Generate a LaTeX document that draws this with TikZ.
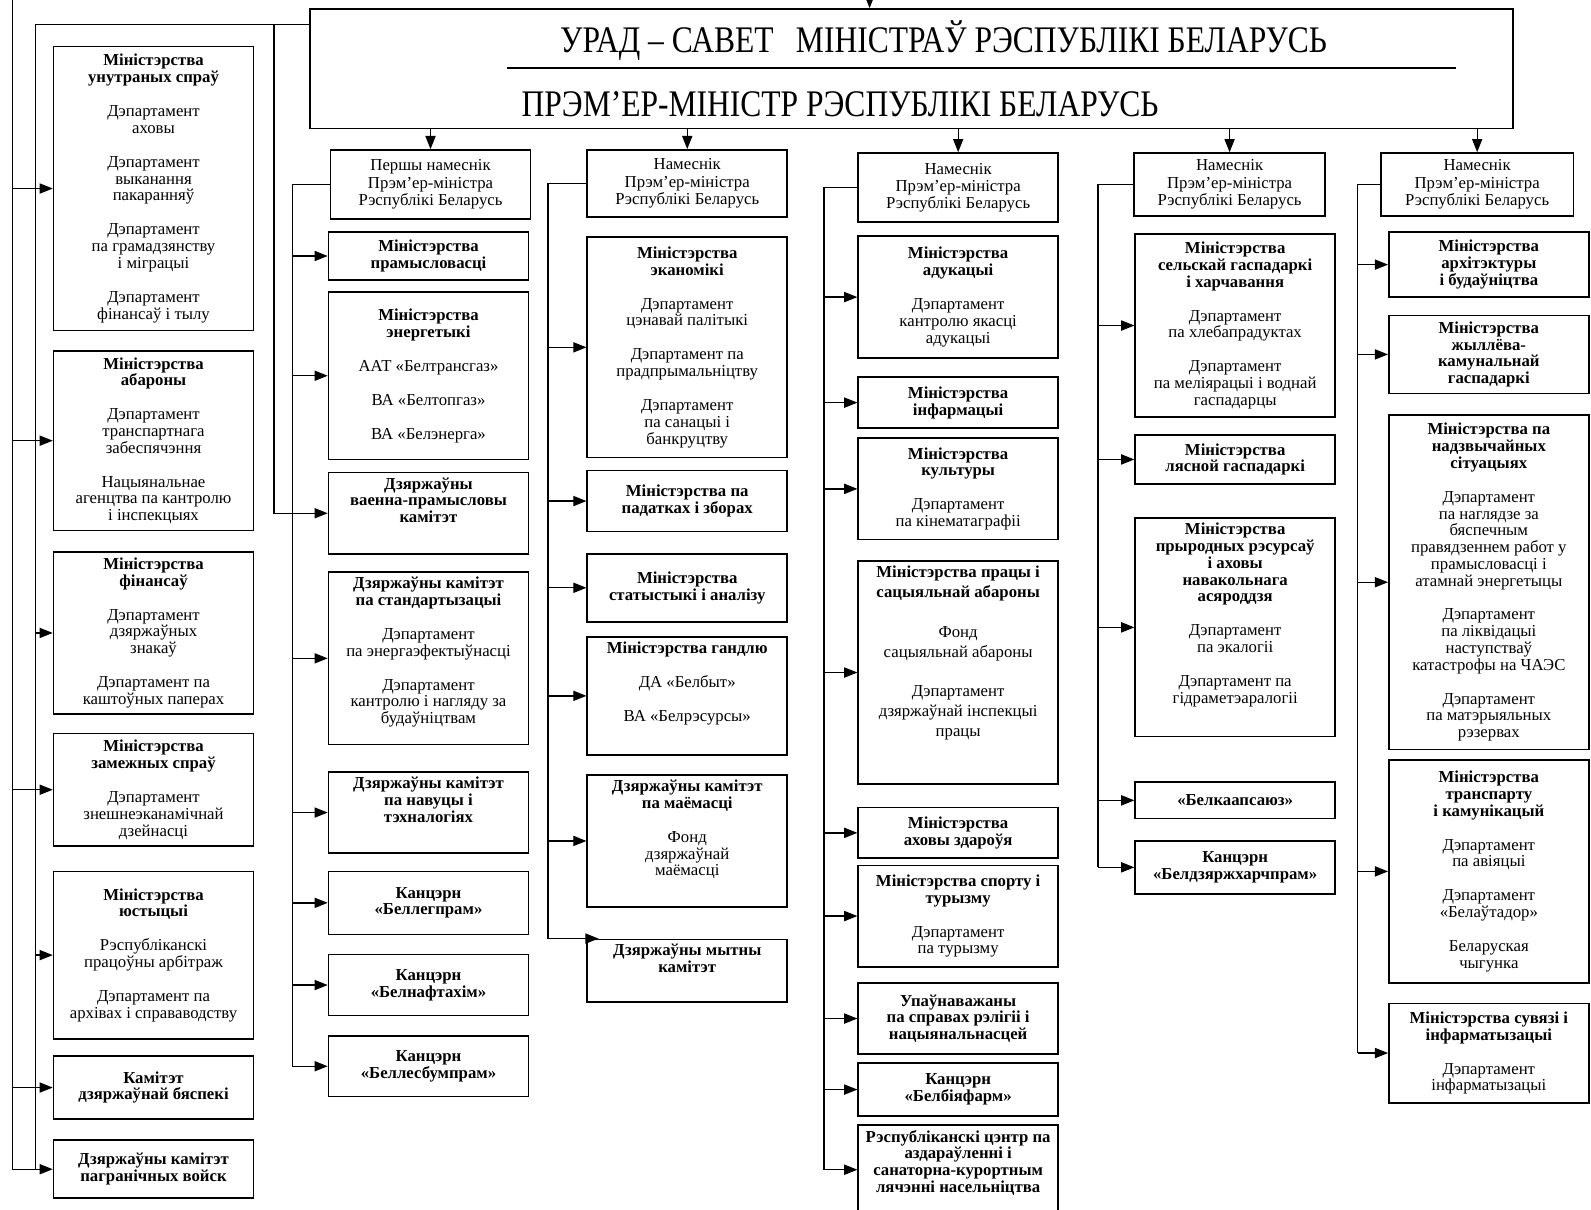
\documentclass[tikz,border=0pt]{standalone}
\usepackage{fontspec}
\setmainfont{Liberation Serif}
\newfontfamily\titlefont[FakeStretch=0.84]{Liberation Serif}
\usetikzlibrary{arrows.meta}
\newlength\cellw
\setlength\cellw{197pt}
% box text: [inner position]{height}{lines}
\newcommand{\cell}[3][c]{\parbox[c][#2pt][#1]{\cellw}{\centering\vspace*{5pt}#3\par\vspace*{5pt}}}
\newcommand{\gp}{\\[17pt]}

\begin{document}
\begin{tikzpicture}[x=1pt,y=1pt,yscale=-1,
  bx/.style={draw,line width=1.6pt,anchor=north west,inner sep=0pt,font=\fontsize{16.5}{16.5}\selectfont},
  nam/.style={bx,minimum width=197,minimum height=68,align=center,font=\fontsize{16.5}{17}\selectfont},
  ln/.style={line width=1.3pt},
  arr/.style={line width=1.3pt,-{Triangle[length=13pt,width=10pt]}},
  ttl/.style={font=\titlefont\fontsize{37}{38}\selectfont}]
\fill[white] (0,0) rectangle (1568,1192);
\useasboundingbox (0,0) rectangle (1568,1192);
\clip (0,0) rectangle (1568,1192);

%Shape: Rectangle (government)
\node[bx,minimum width=1185,minimum height=118] (urad) at (305,8) {};
% Text Node
\node[ttl] (t1) at (930,40) {УРАД – САВЕТ\hspace{22pt}МІНІСТРАЎ РЭСПУБЛІКІ БЕЛАРУСЬ};
% Text Node
\node[ttl] (t2) at (828,103) {ПРЭМ’ЕР-МІНІСТР РЭСПУБЛІКІ БЕЛАРУСЬ};
%Straight Lines
\draw[line width=1.5pt] (500,67) -- (1435,67);

\coordinate (prez) at (857,-14);
\coordinate (busP) at (12,-5);
\coordinate (busC) at (35,0);
\coordinate (busV) at (270,0);
\coordinate (cmtap) at (305,24);
\coordinate (bus1) at (288,0);
\coordinate (bus2) at (540,0);
\coordinate (bus3) at (812,0);
\coordinate (bus4) at (1082,0);
\coordinate (bus5) at (1338,0);

%Shape: column 1
\node[bx] (mvd) at (52,45) {\cell{280}{{\bfseries Міністэрства\\унутраных спраў}\gp Дэпартамент\\аховы\gp Дэпартамент\\выканання\\пакаранняў\gp Дэпартамент\\па грамадзянству\\і міграцыі\gp Дэпартамент\\фінансаў і тылу}};
\node[bx] (abar) at (52,345) {\cell{177}{{\bfseries Міністэрства\\абароны}\gp Дэпартамент\\транспартнага\\забеспячэння\gp Нацыянальнае\\агенцтва па кантролю\\і інспекцыях}};
\node[bx] (fin) at (52,543) {\cell{160}{{\bfseries Міністэрства\\фінансаў}\gp Дэпартамент\\дзяржаўных\\знакаў\gp Дэпартамент па\\каштоўных паперах}};
\node[bx] (mzs) at (52,722) {\cell{111}{{\bfseries Міністэрства\\замежных спраў}\gp Дэпартамент\\знешнеэканамічнай\\дзейнасці}};
\node[bx] (just) at (52,858) {\cell{165}{{\bfseries Міністэрства\\юстыцыі}\gp Рэспубліканскі\\працоўны арбітраж\gp Дэпартамент па\\архівах і справаводству}};
\node[bx] (kdb) at (52,1040) {\cell{62}{\bfseries Камітэт\\дзяржаўнай бяспекі}};
\node[bx] (pagr) at (52,1123) {\cell{57}{\bfseries Дзяржаўны камітэт\\пагранічных войск}};

%Shape: column 2
\node[nam] (nam1) at (325,147) {Першы намеснік\\Прэм’ер-міністра\\Рэспублікі Беларусь};
\node[bx] (prom) at (323,228) {\cell{47}{\bfseries Міністэрства\\прамысловасці}};
\node[bx] (energ) at (323,287) {\cell{165}{{\bfseries Міністэрства\\энергетыкі}\gp ААТ «Белтрансгаз»\gp ВА «Белтопгаз»\gp ВА «Белэнерга»}};
\node[bx] (vpk) at (323,465) {\cell[t]{80}{\bfseries Дзяржаўны\\ваенна-прамысловы\\камітэт}};
\node[bx] (stand) at (323,563) {\cell[t]{170}{{\bfseries Дзяржаўны камітэт\\па стандартызацыі}\gp Дэпартамент\\па энергаэфектыўнасці\gp Дэпартамент\\кантролю і нагляду за\\будаўніцтвам}};
\node[bx] (navuk) at (323,760) {\cell[t]{80}{\bfseries Дзяржаўны камітэт\\па навуцы і\\тэхналогіях}};
\node[bx] (leg) at (323,858) {\cell{62}{\bfseries Канцэрн\\«Беллегпрам»}};
\node[bx] (naft) at (323,940) {\cell{60}{\bfseries Канцэрн\\«Белнафтахім»}};
\node[bx] (lesb) at (323,1020) {\cell{60}{\bfseries Канцэрн\\«Беллесбумпрам»}};

%Shape: column 3
\node[nam,minimum height=66] (nam2) at (578,147) {Намеснік\\Прэм’ер-міністра\\Рэспублікі Беларусь};
\node[bx] (ekan) at (578,233) {\cell{217}{{\bfseries Міністэрства\\эканомікі}\gp Дэпартамент\\цэнавай палітыкі\gp Дэпартамент па\\прадпрымальніцтву\gp Дэпартамент\\па санацыі і\\банкруцтву}};
\node[bx] (padat) at (578,463) {\cell{60}{\bfseries Міністэрства па\\падатках і зборах}};
\node[bx] (stat) at (578,545) {\cell{67}{\bfseries Міністэрства\\статыстыкі і аналізу}};
\node[bx] (gandl) at (578,627) {\cell[t]{116}{{\bfseries Міністэрства гандлю}\gp ДА «Белбыт»\gp ВА «Белрэсурсы»}};
\node[bx] (majom) at (578,763) {\cell[t]{130}{{\bfseries Дзяржаўны камітэт\\па маёмасці}\gp Фонд\\дзяржаўнай\\маёмасці}};
\node[bx] (mytn) at (578,925) {\cell[t]{62}{\bfseries Дзяржаўны мытны\\камітэт}};

%Shape: column 4
\node[nam] (nam3) at (845,150) {Намеснік\\Прэм’ер-міністра\\Рэспублікі Беларусь};
\node[bx] (aduk) at (845,232) {\cell{120}{{\bfseries Міністэрства\\адукацыі}\gp Дэпартамент\\кантролю якасці\\адукацыі}};
\node[bx] (infarm) at (845,371) {\cell{50}{\bfseries Міністэрства\\інфармацыі}};
\node[bx] (kult) at (845,431) {\cell{100}{{\bfseries Міністэрства\\культуры}\gp Дэпартамент\\па кінематаграфіі}};
\node[bx] (pracy) at (845,552) {\cell[t]{220}{\fontsize{16.5}{20}\selectfont{\bfseries Міністэрства працы і\\сацыяльнай абароны}\\[19pt]Фонд\\сацыяльнай абароны\\[18pt]Дэпартамент\\дзяржаўнай інспекцыі\\працы}};
\node[bx] (zdar) at (845,795) {\cell{50}{\bfseries Міністэрства\\аховы здароўя}};
\node[bx] (sport) at (845,852) {\cell{100}{{\bfseries Міністэрства спорту і\\турызму}\gp Дэпартамент\\па турызму}};
\node[bx] (relig) at (845,968) {\cell{70}{\bfseries Упаўнаважаны\\па справах рэлігіі і\\нацыянальнасцей}};
\node[bx] (biaf) at (845,1047) {\cell{52}{\bfseries Канцэрн\\«Белбіяфарм»}};
\node[bx] (sanat) at (845,1108) {\cell[t]{88}{\bfseries Рэспубліканскі цэнтр па\\аздараўленні і\\санаторна-курортным\\лячэнні насельніцтва}};

%Shape: column 5
\node[nam,minimum width=188,minimum height=62] (nam4) at (1117,150) {Намеснік\\Прэм’ер-міністра\\Рэспублікі Беларусь};
\node[bx] (selsk) at (1118,230) {\cell{180}{{\bfseries Міністэрства\\сельскай гаспадаркі\\і харчавання}\gp Дэпартамент\\па хлебапрадуктах\gp Дэпартамент\\па меліярацыі і воднай\\гаспадарцы}};
\node[bx] (lesn) at (1118,428) {\cell{48}{\bfseries Міністэрства\\лясной гаспадаркі}};
\node[bx] (pryr) at (1118,510) {\cell[t]{215}{{\bfseries Міністэрства\\прыродных рэсурсаў\\і аховы\\навакольнага\\асяроддзя}\gp Дэпартамент\\па экалогіі\gp Дэпартамент па\\гідраметэаралогіі}};
\node[bx] (kaap) at (1118,770) {\cell{36}{\bfseries «Белкаапсаюз»}};
\node[bx] (harch) at (1118,828) {\cell{52}{\bfseries Канцэрн\\«Белдзяржхарчпрам»}};

%Shape: column 6
\node[nam,minimum width=190,minimum height=62] (nam5) at (1360,150) {Намеснік\\Прэм’ер-міністра\\Рэспублікі Беларусь};
\node[bx] (arch) at (1368,228) {\cell{64}{\bfseries Міністэрства\\архітэктуры\\і будаўніцтва}};
\node[bx] (zhkh) at (1368,310) {\cell{77}{\bfseries Міністэрства\\жыллёва-\\камунальнай\\гаспадаркі}};
\node[bx] (mns) at (1368,408) {\cell{330}{{\bfseries Міністэрства па\\надзвычайных\\сітуацыях}\gp Дэпартамент\\па наглядзе за\\бяспечным\\правядзеннем работ у\\прамысловасці і\\атамнай энергетыцы\gp Дэпартамент\\па ліквідацыі\\наступстваў\\катастрофы на ЧАЭС\gp Дэпартамент\\па матэрыяльных\\рэзервах}};
\node[bx] (transp) at (1368,748) {\cell{220}{{\bfseries Міністэрства\\транспарту\\і камунікацый}\gp Дэпартамент\\па авіяцыі\gp Дэпартамент\\«Белаўтадор»\gp Беларуская\\чыгунка}};
\node[bx] (suvyaz) at (1368,988) {\cell{98}{{\bfseries Міністэрства сувязі і\\інфарматызацыі}\gp Дэпартамент\\інфарматызацыі}};

%Straight Lines (top)
\draw[arr] (prez) -- (prez |- urad.north);
\draw[arr] (nam1.north |- urad.south) -- (nam1.north);
\draw[arr] (nam2.north |- urad.south) -- (nam2.north);
\draw[arr] (nam3.north |- urad.south) -- (nam3.north);
\draw[arr] (nam4.north |- urad.south) -- (nam4.north);
\draw[arr] (nam5.north |- urad.south) -- (nam5.north);

%Straight Lines (column 1)
\draw[ln] (busP) -- (busP |- pagr.west);
\draw[ln] (cmtap) -| (busC |- pagr.west);
\draw[arr] (cmtap -| busV) |- (vpk.west);
\draw[arr] (busP |- mvd.west) -- (mvd.west);
\draw[arr] (busP |- abar.west) -- (abar.west);
\draw[arr] (busC |- fin.west) -- (fin.west);
\draw[arr] (busP |- mzs.west) -- (mzs.west);
\draw[arr] (busC |- just.west) -- (just.west);
\draw[arr] (busP |- kdb.west) -- (kdb.west);
\draw[arr] (busP |- pagr.west) -- (pagr.west);

%Straight Lines (column 2)
\draw[ln] (nam1.west) -| (bus1 |- lesb.west);
\draw[arr] (bus1 |- prom.west) -- (prom.west);
\draw[arr] (bus1 |- energ.west) -- (energ.west);
\draw[arr] (bus1 |- stand.west) -- (stand.west);
\draw[arr] (bus1 |- navuk.west) -- (navuk.west);
\draw[arr] (bus1 |- leg.west) -- (leg.west);
\draw[arr] (bus1 |- naft.west) -- (naft.west);
\draw[arr] (bus1 |- lesb.west) -- (lesb.west);

%Straight Lines (column 3)
\draw[ln] (nam2.west) -| (bus2 |- mytn.160);
\draw[arr] (bus2 |- ekan.west) -- (ekan.west);
\draw[arr] (bus2 |- padat.west) -- (padat.west);
\draw[arr] (bus2 |- stat.west) -- (stat.west);
\draw[arr] (bus2 |- gandl.west) -- (gandl.west);
\draw[arr] (bus2 |- majom.west) -- (majom.west);
\draw[arr] (bus2 |- mytn.160) -- (mytn.160);

%Straight Lines (column 4)
\draw[ln] (nam3.west) -| (bus3 |- sanat.west);
\draw[arr] (bus3 |- aduk.west) -- (aduk.west);
\draw[arr] (bus3 |- infarm.west) -- (infarm.west);
\draw[arr] (bus3 |- kult.west) -- (kult.west);
\draw[arr] (bus3 |- pracy.west) -- (pracy.west);
\draw[arr] (bus3 |- zdar.west) -- (zdar.west);
\draw[arr] (bus3 |- sport.west) -- (sport.west);
\draw[arr] (bus3 |- relig.west) -- (relig.west);
\draw[arr] (bus3 |- biaf.west) -- (biaf.west);
\draw[arr] (bus3 |- sanat.west) -- (sanat.west);

%Straight Lines (column 5)
\draw[ln] (nam4.west) -| (bus4 |- harch.west);
\draw[arr] (bus4 |- selsk.west) -- (selsk.west);
\draw[arr] (bus4 |- lesn.west) -- (lesn.west);
\draw[arr] (bus4 |- pryr.west) -- (pryr.west);
\draw[arr] (bus4 |- kaap.west) -- (kaap.west);
\draw[arr] (bus4 |- harch.west) -- (harch.west);

%Straight Lines (column 6)
\draw[ln] (nam5.west) -| (bus5 |- suvyaz.west);
\draw[arr] (bus5 |- arch.west) -- (arch.west);
\draw[arr] (bus5 |- zhkh.west) -- (zhkh.west);
\draw[arr] (bus5 |- mns.west) -- (mns.west);
\draw[arr] (bus5 |- transp.west) -- (transp.west);
\draw[arr] (bus5 |- suvyaz.west) -- (suvyaz.west);

\end{tikzpicture}
\end{document}
